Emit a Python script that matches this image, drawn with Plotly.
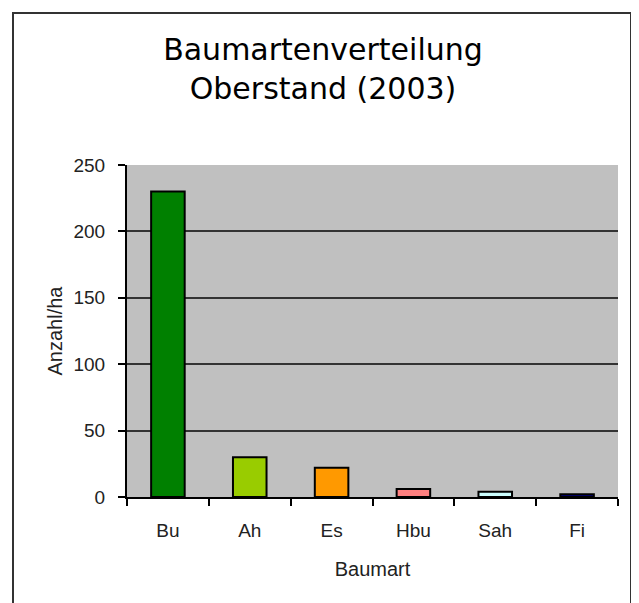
import plotly.graph_objects as go

categories = ["Bu", "Ah", "Es", "Hbu", "Sah", "Fi"]
values = [230, 30, 22, 6, 4, 2]
colors = ["#008000", "#99CC00", "#FF9900", "#FF8080", "#CCFFFF", "#000080"]
yticks = [0, 50, 100, 150, 200, 250]

# the page adds an 8px body margin; the figure is sized to fit inside it
OFF = 8
W, H = 639 - OFF, 603 - OFF
L, R, T, B = 127 - OFF, 21, 165 - OFF, 106

fig = go.Figure(go.Bar(
    x=categories, y=values,
    marker=dict(color=colors, line=dict(color="#000000", width=2)),
    width=0.41,
))

fig.update_layout(
    width=W, height=H,
    margin=dict(l=L, r=R, t=T, b=B),
    paper_bgcolor="white",
    plot_bgcolor="#C0C0C0",
    showlegend=False,
    title=dict(
        text="Baumartenverteilung<br>Oberstand (2003)",
        x=(323 - OFF) / W, xanchor="center",
        y=1 - (60 - OFF) / H, yanchor="top",
        font=dict(family="DejaVu Sans", size=30, color="#000000"),
    ),
    font=dict(family="Liberation Sans", color="#222222"),
)

fig.update_xaxes(
    type="category",
    tickson="boundaries",
    ticks="outside", ticklen=7, tickwidth=2, tickcolor="#000000",
    showline=True, linecolor="#000000", linewidth=2,
    showgrid=False,
    tickfont=dict(size=19),
    ticklabelstandoff=15,
    title=dict(text="Baumart", font=dict(size=20), standoff=22),
)
fig.update_yaxes(
    range=[0, 250],
    tickvals=yticks,
    ticks="outside", ticklen=7, tickwidth=2, tickcolor="#000000",
    showline=True, linecolor="#000000", linewidth=2,
    showgrid=True, gridcolor="#333333", gridwidth=2,
    zeroline=False,
    tickfont=dict(size=19),
    ticklabelstandoff=9,
    title=dict(text="Anzahl/ha", font=dict(size=20), standoff=5),
)

# outer chart border
pw, ph = W - L - R, H - T - B
fig.add_shape(type="rect", xref="paper", yref="paper",
              x0=(13 - 127) / pw, x1=(631 - 127) / pw,
              y0=(497 - 640) / ph, y1=(497 - 13) / ph,
              line=dict(color="#333333", width=2), layer="below")

fig.write_html("out.html")
